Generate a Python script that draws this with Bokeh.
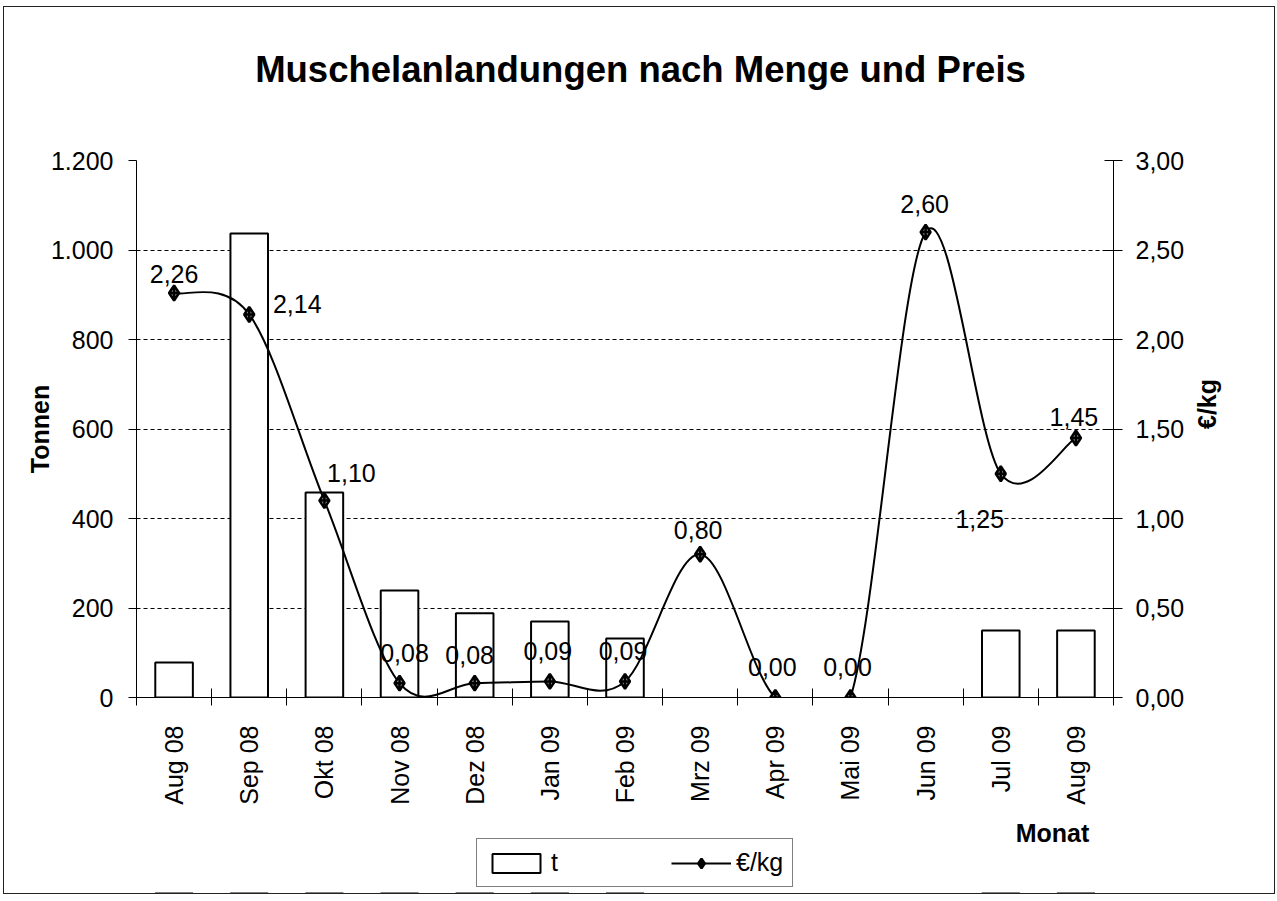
import math
from bokeh.plotting import figure
from bokeh.layouts import column
from bokeh.models import (Range1d, LinearAxis, FixedTicker, CustomJSTickFormatter,
                          Label, Legend, LegendItem, ColumnDataSource)
from bokeh.core.properties import value
from bokeh.embed import file_html
from bokeh.resources import INLINE

# ---------------- data ----------------
months = ["Aug 08", "Sep 08", "Okt 08", "Nov 08", "Dez 08", "Jan 09", "Feb 09",
          "Mrz 09", "Apr 09", "Mai 09", "Jun 09", "Jul 09", "Aug 09"]
tonnes = [78, 1037, 458, 239, 188, 170, 132, 0, 0, 0, 0, 150, 150]
price = [2.26, 2.14, 1.10, 0.08, 0.08, 0.09, 0.09, 0.80, 0.00, 0.00, 2.60, 1.25, 1.45]
left_ticks = [0, 200, 400, 600, 800, 1000, 1200]
right_ticks = [0.0, 0.5, 1.0, 1.5, 2.0, 2.5, 3.0]

title_text = "Muschelanlandungen nach Menge und Preis"
y_title_left = "Tonnen"
y_title_right = "€/kg"
x_title = "Monat"
legend_labels = ["t", "€/kg"]

# label placement (screen pixels, relative to each point)
label_dx = [0, 48, 27, 5, -5, -2, -2, -2, -3, -3, -1, -21, -2]
label_dy = [-19, -10, -28, -30, -28, -30, -30, -24, -31, -31, -28, 45, -21]

FONT = "Liberation Sans"
W = 1270
n = len(months)
xs = list(range(n))

# shared sources
bar_src = ColumnDataSource(dict(
    x=[x for x, t in zip(xs, tonnes) if t > 0],
    top=[t for t in tonnes if t > 0]))

x0, y0, x1, y1, cx0, cy0, cx1, cy1 = ([] for _ in range(8))
for i in range(n - 1):
    a = i - 1 if i > 0 else i
    d = i + 2 if i + 2 < n else i + 1
    x0.append(xs[i]); y0.append(price[i])
    x1.append(xs[i + 1]); y1.append(price[i + 1])
    cx0.append(xs[i] + (xs[i + 1] - xs[a]) / 6.0)
    cy0.append(price[i] + (price[i + 1] - price[a]) / 6.0)
    cx1.append(xs[i + 1] - (xs[d] - xs[i]) / 6.0)
    cy1.append(price[i + 1] - (price[d] - price[i]) / 6.0)
curve_src = ColumnDataSource(dict(x0=x0, y0=y0, x1=x1, y1=y1,
                                  cx0=cx0, cy0=cy0, cx1=cx1, cy1=cy1))
pt_src = ColumnDataSource(dict(
    x=xs, y=price,
    lab=[f"{v:.2f}".replace(".", ",") for v in price],
    dx=label_dx, dy=label_dy))

BAR_STYLE = dict(fill_color="white", line_color="black", line_width=2)
LINE_STYLE = dict(line_color="black", line_width=2)
DOT_STYLE = dict(marker="diamond_cross", size=15, fill_color="#999999",
                 line_color="black", line_width=2.5)


def blank_fig(h, xr, yr):
    f = figure(width=W, height=h, output_backend="svg", toolbar_location=None,
               x_range=xr, y_range=yr, x_axis_type=None, y_axis_type=None,
               min_border_left=0, min_border_right=0, min_border_top=0,
               min_border_bottom=0)
    f.outline_line_color = None
    f.background_fill_color = "white"
    f.border_fill_color = "white"
    f.grid.visible = False
    return f


# ---------------- title strip (frame is aligned with the main chart's frame) ----------------
p0 = blank_fig(100, Range1d(0, 1), Range1d(0, 1))
p0.add_layout(Label(x=504, y=38, x_units="screen", y_units="screen", text=title_text,
                    text_font=FONT, text_font_size="36.5px", text_font_style="bold",
                    text_align="center", text_baseline="middle",
                    text_color="black"))

# ---------------- main chart ----------------
p = figure(width=W, height=703, output_backend="svg", toolbar_location=None,
           x_range=Range1d(-0.5, n - 0.5), y_range=Range1d(0, 1200),
           min_border_left=132, min_border_right=161, min_border_top=53,
           min_border_bottom=113)
p.extra_y_ranges = {"price": Range1d(0, 3)}
p.outline_line_color = None
p.background_fill_color = "white"
p.border_fill_color = "white"

xa = p.xaxis[0]
xa.ticker = FixedTicker(ticks=xs, minor_ticks=[i - 0.5 for i in range(n + 1)])
xa.formatter = CustomJSTickFormatter(args=dict(labels=months), code="""
const i = Math.round(tick);
return (i >= 0 && i < labels.length) ? labels[i] : '';
""")
xa.major_tick_in = 0
xa.major_tick_out = 0
xa.minor_tick_in = 9
xa.minor_tick_out = 8
xa.minor_tick_line_color = "black"
xa.axis_line_color = "black"
xa.major_label_orientation = math.pi / 2
xa.major_label_standoff = 20
xa.major_label_text_font = FONT
xa.major_label_text_font_size = "25px"
xa.major_label_text_color = "black"

ya = p.yaxis[0]
ya.ticker = FixedTicker(ticks=left_ticks)
ya.formatter = CustomJSTickFormatter(code="""
const s = tick.toFixed(0);
return s.length > 3 ? s.slice(0, s.length - 3) + '.' + s.slice(-3) : s;
""")
ya.major_tick_in = 0
ya.major_tick_out = 8
ya.minor_tick_in = 0
ya.minor_tick_out = 0
ya.major_tick_line_color = "black"
ya.axis_line_color = "black"
ya.major_label_standoff = 15
ya.major_label_text_font = FONT
ya.major_label_text_font_size = "25px"
ya.major_label_text_color = "black"
ya.axis_label = y_title_left
ya.axis_label_standoff = -6
ya.axis_label_text_font = FONT
ya.axis_label_text_font_size = "25px"
ya.axis_label_text_font_style = "bold"
ya.axis_label_text_color = "black"

ra = LinearAxis(y_range_name="price", ticker=FixedTicker(ticks=right_ticks),
                formatter=CustomJSTickFormatter(code="return tick.toFixed(2).replace('.', ',');"))
ra.major_tick_in = 9
ra.major_tick_out = 9
ra.minor_tick_in = 0
ra.minor_tick_out = 0
ra.major_tick_line_color = "black"
ra.axis_line_color = "black"
ra.major_label_standoff = 13
ra.major_label_text_font = FONT
ra.major_label_text_font_size = "25px"
ra.major_label_text_color = "black"
ra.axis_label = y_title_right
ra.axis_label_standoff = 20
ra.axis_label_text_font = FONT
ra.axis_label_text_font_size = "25px"
ra.axis_label_text_font_style = "bold"
ra.axis_label_text_color = "black"
if "axis_label_orientation" in LinearAxis.properties():
    ra.axis_label_orientation = math.pi / 2
p.add_layout(ra, "right")

p.xgrid.visible = False
p.ygrid.ticker = FixedTicker(ticks=left_ticks[1:])
p.ygrid.grid_line_color = "black"
p.ygrid.grid_line_dash = "4 3"
p.ygrid.grid_line_width = 1

p.vbar(x="x", top="top", width=0.5, bottom=0, source=bar_src, **BAR_STYLE)
p.bezier(x0="x0", y0="y0", x1="x1", y1="y1", cx0="cx0", cy0="cy0",
         cx1="cx1", cy1="cy1", source=curve_src, y_range_name="price", **LINE_STYLE)
p.scatter(x="x", y="y", source=pt_src, y_range_name="price", **DOT_STYLE)
p.text(x="x", y="y", text="lab", x_offset="dx", y_offset="dy", source=pt_src,
       y_range_name="price", text_align="center", text_baseline="middle",
       text_font=value(FONT), text_font_size="25px", text_color="black")

# ---------------- bottom strip: x title and legend ----------------
# legend proxies share sources/styles; this strip's y-range lies far above every
# data value, so the proxies are drawn off-canvas and only their legend glyphs show
p2 = blank_fig(83, Range1d(-0.5, n - 0.5), Range1d(5000, 5001))
p2.add_layout(Label(x=916, y=61, x_units="screen", y_units="screen", text=x_title,
                    text_font=FONT, text_font_size="25px", text_font_style="bold",
                    text_align="center", text_baseline="middle", text_color="black"))
lb = p2.vbar(x="x", top="top", width=0.5, bottom=0, source=bar_src, **BAR_STYLE)
lc = p2.bezier(x0="x0", y0="y0", x1="x1", y1="y1", cx0="cx0", cy0="cy0",
               cx1="cx1", cy1="cy1", source=curve_src, **LINE_STYLE)
ld = p2.scatter(x="x", y="y", source=pt_src, **DOT_STYLE)
legend = Legend(items=[LegendItem(label=legend_labels[0], renderers=[lb]),
                       LegendItem(label=legend_labels[1], renderers=[lc, ld])],
                orientation="horizontal", location=(340, 6),
                glyph_width=60, glyph_height=24, label_standoff=5, label_width=20,
                spacing=100, padding=9, margin=0,
                label_text_font=FONT, label_text_font_size="25px",
                label_text_color="black",
                border_line_color="black", border_line_width=1,
                background_fill_color="white", background_fill_alpha=1.0)
p2.add_layout(legend)

layout = column(p0, p, p2, spacing=0)
layout.styles = {"outline": "1px solid #222222", "margin-left": "4px", "margin-top": "7px"}

open("out.html", "w").write(file_html(layout, INLINE))
